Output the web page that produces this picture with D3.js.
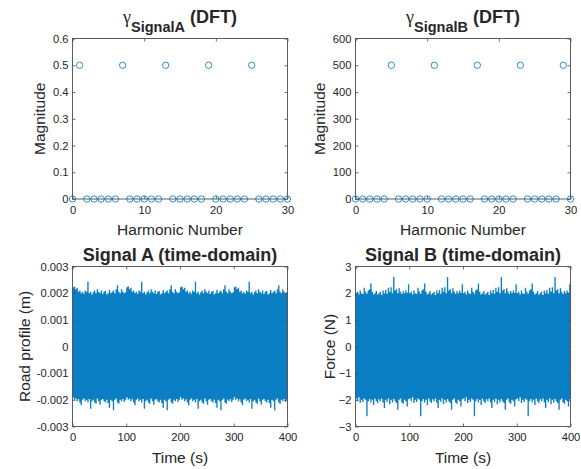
<!DOCTYPE html>
<html>
<head>
<meta charset="utf-8">
<script src="https://cdn.jsdelivr.net/npm/d3@7"></script>
<style>
  body { margin: 0; background: #fff; }
  svg { display: block; }
  text { font-family: "Liberation Sans", Arial, sans-serif; fill: #262626; }
</style>
</head>
<body>
<svg id="chart" width="581" height="469"></svg>
<script>
/* ============================================================
   DATA
   ============================================================ */

// DFT panels: harmonic number 0..30
const harmonics = [0, 1, 2, 3, 4, 5, 6, 7, 8, 9, 10, 11, 12, 13, 14, 15,
    16, 17, 18, 19, 20, 21, 22, 23, 24, 25, 26, 27, 28, 29, 30];

const magnitudeA = [0, 0.5, 0, 0, 0, 0, 0, 0.5, 0, 0, 0, 0, 0, 0.5, 0, 0,
    0, 0, 0, 0.5, 0, 0, 0, 0, 0, 0.5, 0, 0, 0, 0, 0];

const magnitudeB = [0, 0, 0, 0, 0, 500, 0, 0, 0, 0, 0, 500, 0, 0, 0, 0,
    0, 500, 0, 0, 0, 0, 0, 500, 0, 0, 0, 0, 0, 500, 0];

const harmonicTicks = [0, 10, 20, 30];
const magTicksA = [0, 0.1, 0.2, 0.3, 0.4, 0.5, 0.6];
const magTicksB = [0, 100, 200, 300, 400, 500, 600];

// Time-domain panels: the signals repeat every 100 s, so one period of the
// upper / lower envelope is read off the picture (2.5 s steps).
const periodSeconds = 100;
const envelopeStep = 2.5;

// Signal A, road profile in mm (scaled to m below)
const upperA_mm = [2.22, 2.25, 2.15, 2.2, 2.05, 2.1, 2.0, 2.05, 1.98, 2.1, 2.05, 2.43, 2.0, 2.05,
    1.95, 2.03, 2.1, 2.0, 2.15, 2.05, 2.0, 2.1, 1.97, 2.05, 2.08, 1.95, 2.0, 2.12, 2.0, 2.05,
    2.1, 2.0, 2.15, 2.3, 2.05, 2.0, 2.15, 2.05, 2.0, 2.03];
const lowerA_mm = [-1.9, -2.0, -1.95, -2.05, -1.98, -2.1, -2.2, -2.0, -1.95, -2.05, -2.0, -2.1,
    -1.97, -2.33, -2.05, -2.0, -2.1, -2.15, -1.95, -2.05, -2.18, -2.0, -1.97, -2.05, -2.1, -2.0,
    -2.12, -2.3, -2.0, -2.05, -2.39, -2.0, -1.95, -2.1, -2.15, -2.0, -2.05, -1.97, -2.08, -2.0];

// Signal B, force in N
const upperB = [2.0, 2.05, 1.95, 2.1, 2.0, 1.97, 2.2, 2.05, 1.98, 2.1, 2.15, 2.36, 2.05, 1.95,
    2.0, 2.08, 1.95, 2.0, 2.05, 1.93, 2.1, 2.0, 2.12, 1.98, 2.2, 2.05, 2.22, 2.0, 2.61, 2.1,
    2.15, 2.0, 2.18, 2.05, 1.97, 2.08, 2.0, 2.1, 2.02, 2.33];
const lowerB = [-1.95, -2.05, -1.9, -2.12, -2.0, -2.08, -1.95, -2.0, -2.62, -2.05, -1.97, -2.1,
    -2.0, -2.19, -1.95, -2.05, -2.12, -1.98, -2.05, -1.95, -2.1, -2.31, -2.0, -2.08, -1.95,
    -2.17, -2.0, -2.1, -1.97, -2.05, -2.12, -2.37, -2.0, -1.95, -2.1, -2.15, -2.0, -2.05,
    -2.25, -1.98];

const timeTicks = [0, 100, 200, 300, 400];
const roadTicks = [-0.003, -0.002, -0.001, 0, 0.001, 0.002, 0.003];
const forceTicks = [-3, -2, -1, 0, 1, 2, 3];

const COLORS = {
    marker: '#0072BD',
    signal: '#0b7fc3',
    axis: '#4d4d4d',
    text: '#262626'
};

/* ============================================================
   HELPERS
   ============================================================ */

// Tile one period of envelope values across the whole record
function buildEnvelope(upper, lower, scale, totalSeconds) {
    const rows = [];
    const periods = totalSeconds / periodSeconds;
    for (let p = 0; p < periods; p++) {
        upper.forEach((u, i) => {
            rows.push({ t: p * periodSeconds + i * envelopeStep, hi: u * scale, lo: lower[i] * scale });
        });
    }
    rows.push({ t: totalSeconds, hi: upper[0] * scale, lo: lower[0] * scale });
    return rows;
}

function drawFrame(g, x, y, xTicks, yTicks, yFormat) {
    const [x0, x1] = x.range();
    const [y0, y1] = y.range();

    g.append('g')
        .attr('transform', `translate(0,${y0})`)
        .call(d3.axisBottom(x).tickValues(xTicks).tickSize(-3).tickSizeOuter(0).tickPadding(7)
            .tickFormat(d3.format('d')))
        .call(a => a.select('.domain').remove());

    g.append('g')
        .attr('transform', `translate(${x0},0)`)
        .call(d3.axisLeft(y).tickValues(yTicks).tickSize(-3).tickSizeOuter(0).tickPadding(4)
            .tickFormat(yFormat))
        .call(a => a.select('.domain').remove());

    // mirrored ticks on top and right
    g.append('g')
        .attr('transform', `translate(0,${y1})`)
        .call(d3.axisTop(x).tickValues(xTicks).tickSize(-3).tickFormat(''))
        .call(a => a.select('.domain').remove());
    g.append('g')
        .attr('transform', `translate(${x1},0)`)
        .call(d3.axisRight(y).tickValues(yTicks).tickSize(-3).tickFormat(''))
        .call(a => a.select('.domain').remove());

    g.selectAll('.tick line').attr('stroke', COLORS.axis).attr('stroke-width', 0.8);
    g.selectAll('.tick text').attr('fill', COLORS.text).style('font-size', '11.2px')
        .style('font-family', '"Liberation Sans", Arial, sans-serif');

    g.append('rect')
        .attr('x', x0).attr('y', y1)
        .attr('width', x1 - x0).attr('height', y0 - y1)
        .attr('fill', 'none')
        .attr('stroke', COLORS.axis)
        .attr('stroke-width', 0.9);
}

function axisLabels(g, box, xLabel, yLabel, yLabelX) {
    g.append('text')
        .attr('x', (box.left + box.right) / 2)
        .attr('y', box.bottom + 36)
        .attr('text-anchor', 'middle')
        .style('font-size', '15.5px')
        .text(xLabel);

    g.append('text')
        .attr('transform', `translate(${yLabelX},${(box.top + box.bottom) / 2}) rotate(-90)`)
        .attr('text-anchor', 'middle')
        .style('font-size', '15.5px')
        .text(yLabel);
}

/* ============================================================
   PANELS
   ============================================================ */

function renderDftPanel(svg, box, values, yTicks, yFormat, subscript, yLabelX) {
    const g = svg.append('g');
    const x = d3.scaleLinear().domain([0, 30]).range([box.left, box.right]);
    const y = d3.scaleLinear().domain([yTicks[0], yTicks[yTicks.length - 1]]).range([box.bottom, box.top]);

    drawFrame(g, x, y, harmonicTicks, yTicks, yFormat);

    g.selectAll('circle')
        .data(harmonics)
        .enter()
        .append('circle')
        .attr('cx', d => x(d))
        .attr('cy', (d, i) => y(values[i]))
        .attr('r', 3.2)
        .attr('fill', 'none')
        .attr('stroke', COLORS.marker)
        .attr('stroke-width', 0.8);

    // title: gamma with bold subscript, then (DFT)
    const cx = (box.left + box.right) / 2;
    const title = g.append('text')
        .attr('x', cx)
        .attr('y', 23)
        .attr('text-anchor', 'middle')
        .style('font-weight', 'bold')
        .style('font-size', '18px');
    title.append('tspan')
        .style('font-family', '"Liberation Serif", serif')
        .style('font-weight', 'normal')
        .text('γ');
    title.append('tspan')
        .attr('dy', 9)
        .style('font-size', '14.5px')
        .text(subscript);
    title.append('tspan')
        .attr('dy', -9)
        .text(' (DFT)');

    axisLabels(g, box, 'Harmonic Number', 'Magnitude', yLabelX);
}

function renderTimePanel(svg, box, rows, yTicks, yFormat, titleText, yLabel, yLabelX) {
    const g = svg.append('g');
    const x = d3.scaleLinear().domain([0, 400]).range([box.left, box.right]);
    const y = d3.scaleLinear().domain([yTicks[0], yTicks[yTicks.length - 1]]).range([box.bottom, box.top]);

    const band = d3.area()
        .curve(d3.curveStepAfter)
        .x(d => x(d.t))
        .y0(d => y(d.lo))
        .y1(d => y(d.hi));

    g.append('path')
        .datum(rows)
        .attr('d', band)
        .attr('fill', COLORS.signal)
        .attr('stroke', 'none');

    drawFrame(g, x, y, timeTicks, yTicks, yFormat);

    g.append('text')
        .attr('x', (box.left + box.right) / 2)
        .attr('y', box.top - 6)
        .attr('text-anchor', 'middle')
        .style('font-weight', 'bold')
        .style('font-size', '18px')
        .text(titleText);

    axisLabels(g, box, 'Time (s)', yLabel, yLabelX);
}

const svg = d3.select('#chart');

const leftCol = { left: 72.5, right: 287.5 };
const rightCol = { left: 355.5, right: 570.5 };
const topRow = { top: 38.5, bottom: 199 };
const botRow = { top: 266.5, bottom: 426.5 };

const trimZero = d => d === 0 ? '0' : String(+d.toFixed(3));

renderDftPanel(svg, { ...leftCol, ...topRow }, magnitudeA, magTicksA, trimZero, 'SignalA', 44.5);
renderDftPanel(svg, { ...rightCol, ...topRow }, magnitudeB, magTicksB, d3.format('d'), 'SignalB', 325);

renderTimePanel(svg, { ...leftCol, ...botRow }, buildEnvelope(upperA_mm, lowerA_mm, 0.001, 400),
    roadTicks, trimZero, 'Signal A (time-domain)', 'Road profile (m)', 29.5);
renderTimePanel(svg, { ...rightCol, ...botRow }, buildEnvelope(upperB, lowerB, 1, 400),
    forceTicks, d3.format('d'), 'Signal B (time-domain)', 'Force (N)', 335);
</script>
</body>
</html>
